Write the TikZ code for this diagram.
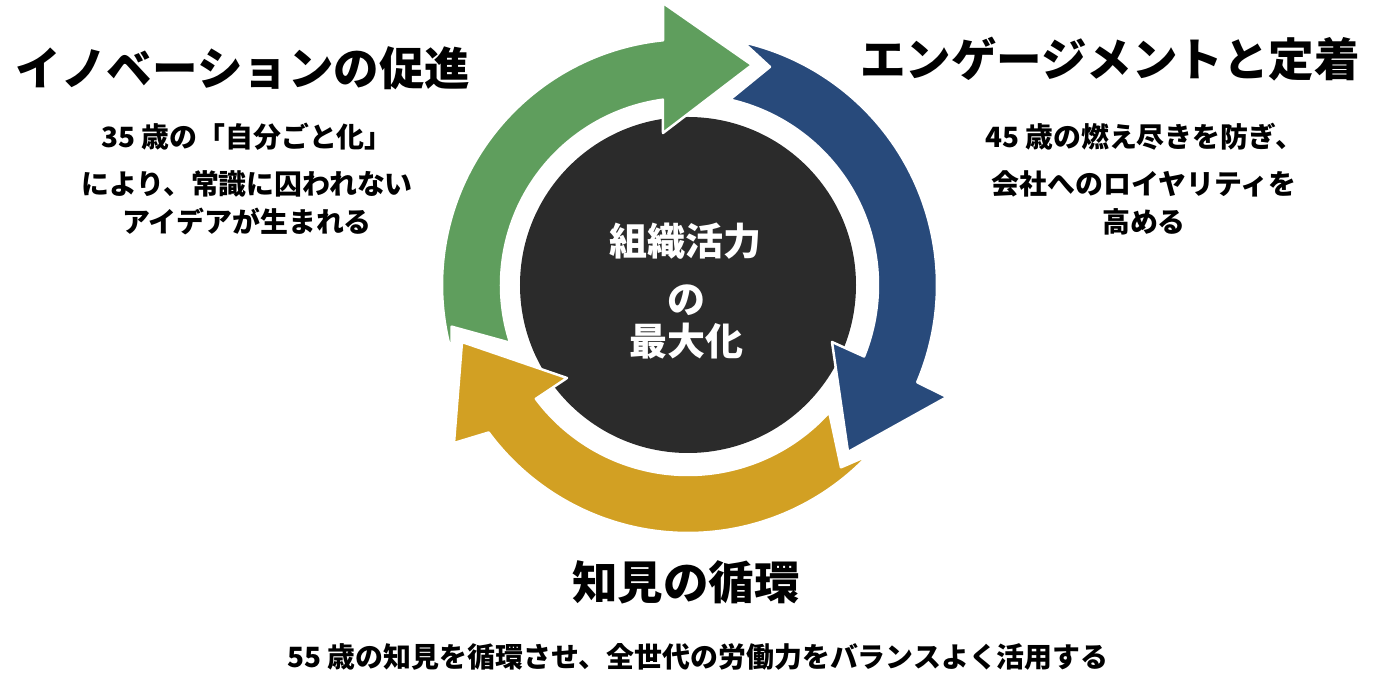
\documentclass[tikz,border=0pt]{standalone}
\usepackage{fontspec}
\setmainfont{Noto Sans CJK JP}
\definecolor{cgreen}{HTML}{5F9E5D}
\definecolor{cblue}{HTML}{284A7B}
\definecolor{cyellow}{HTML}{D2A023}
\definecolor{cdark}{HTML}{2B2B2B}
\begin{document}
\begin{tikzpicture}[x=1pt,y=1pt,
  cyclearrow/.style={draw=white, line width=2.5pt, line join=round},
  titletext/.style={font=\fontsize{45.5}{50}\selectfont\bfseries, inner sep=0pt, text=black},
  bodytext/.style={font=\fontsize{27.9}{32}\selectfont\bfseries, inner sep=0pt, text=black},
  coretext/.style={font=\fontsize{38}{44}\selectfont\bfseries, inner sep=0pt, text=white}]
\useasboundingbox (-688,285) rectangle (706,-415);
% central disc
\node[circle, fill=cdark, minimum size=336pt, inner sep=0pt] (core) at (0,0) {};
% green arrow
\path[fill=cgreen, cyclearrow] (196:246) -- (190:240) -- (198:187)
  arc[start angle=198, end angle=97.7, radius=187]
  -- (-25,152) -- (64,220) -- (-25,282) -- (95.8:246)
  arc[start angle=95.8, end angle=196, radius=246] -- cycle;
% blue arrow
\path[fill=cblue, cyclearrow] (77.2:249) -- (69.4:233) -- (77.3:190)
  arc[start angle=77.3, end angle=-22.1, radius=190]
  -- (144,-57) -- (160,-167) -- (259,-112) -- (-23:249)
  arc[start angle=-23, end angle=77.2, radius=249] -- cycle;
% yellow arrow
\path[fill=cyellow, cyclearrow] (-43.5:248) -- (-50:238) -- (-42:190)
  arc[start angle=-42, end angle=-143.2, radius=190]
  -- (-121,-93) -- (-226,-57) -- (-234,-158) -- (-143.5:248)
  arc[start angle=-143.5, end angle=-43.5, radius=248] -- cycle;
% centre text
\node[coretext] (c1) at (-2,44) {組織活力};
\node[coretext] (c2) at (-2,-15) {の};
\node[coretext] (c3) at (-2,-56) {最大化};
% titles
\node[titletext] (t1) at (-445,217) {イノベーションの促進};
\node[titletext] (t2) at (422,226) {エンゲージメントと定着};
\node[titletext] (t3) at (-2,-297) {知見の循環};
% left body
\node[bodytext] (l1) at (-441,148) {35 歳の「自分ごと化」};
\node[bodytext] (l2) at (-441,101) {により、常識に囚われない};
\node[bodytext] (l3) at (-441,64) {アイデアが生まれる};
% right body
\node[bodytext] (r1) at (456,148) {45 歳の燃え尽きを防ぎ、};
\node[bodytext] (r2) at (456,101) {会社へのロイヤリティを};
\node[bodytext] (r3) at (456,63) {高める};
% bottom body
\node[bodytext] (b1) at (10,-372) {55 歳の知見を循環させ、全世代の労働力をバランスよく活用する};
\end{tikzpicture}
\end{document}
